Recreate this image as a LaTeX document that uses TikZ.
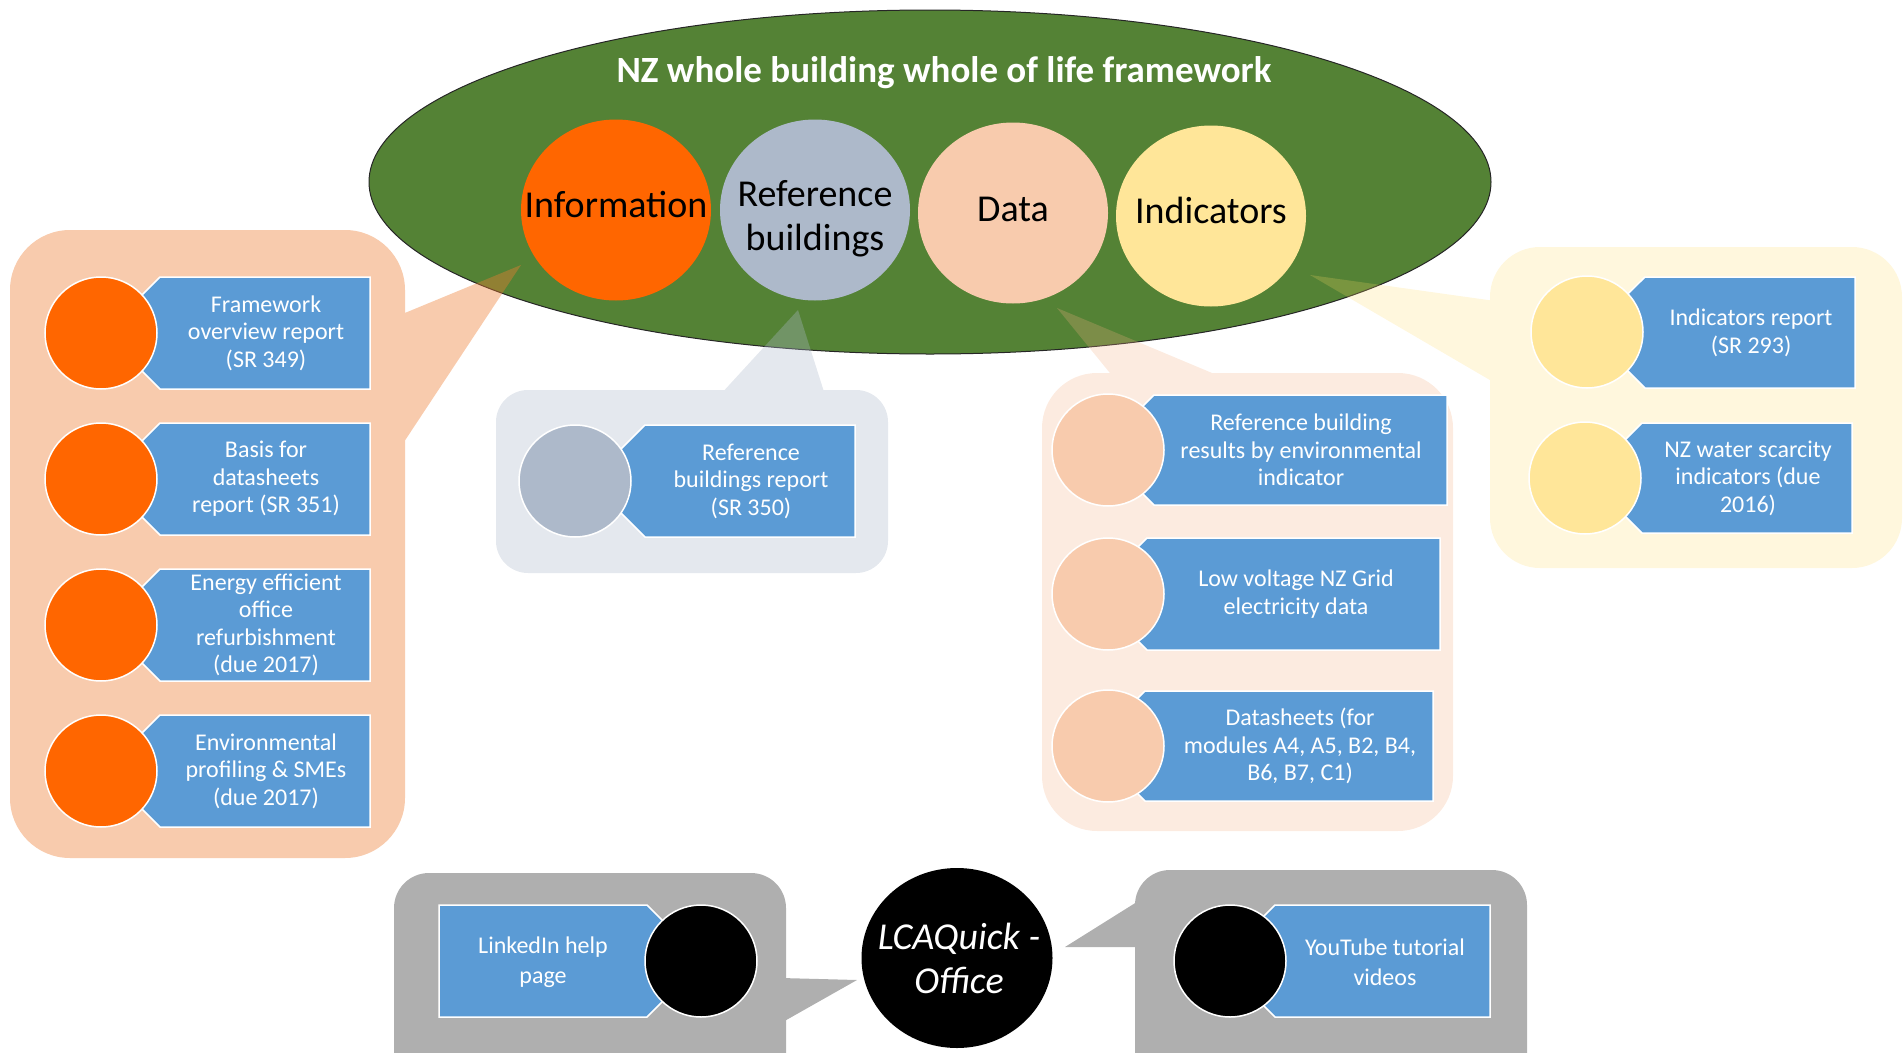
\documentclass[tikz,border=0pt]{standalone}
\usepackage{fontspec}
\setmainfont{Carlito}
\usetikzlibrary{shapes.geometric}

\definecolor{framegreen}{HTML}{548235}
\definecolor{infoorange}{HTML}{FF6600}
\definecolor{refgrey}{HTML}{ADB9CA}
\definecolor{datapeach}{HTML}{F8CBAD}
\definecolor{indyellow}{HTML}{FFE699}
\definecolor{tagblue}{HTML}{5B9BD5}
\definecolor{calloutorange}{HTML}{ED7D31}
\definecolor{calloutpeach}{HTML}{F4B183}
\definecolor{calloutyellow}{HTML}{FFD966}
\definecolor{helpgrey}{HTML}{AFAFAF}

\newcommand{\titlefont}{\fontsize{37}{44}\selectfont\bfseries}
\newcommand{\pillarfont}{\fontsize{38}{44}\selectfont}
\newcommand{\tagfont}{\fontsize{24}{27.5}\selectfont}
\newcommand{\hubfont}{\fontsize{38}{44}\selectfont\itshape}

\tikzset{
    pillar/.style={ellipse, minimum width=190pt, minimum height=181pt, inner sep=0pt},
    pillartext/.style={font=\pillarfont, align=center, inner sep=0pt},
    disc/.style={circle, draw=white, line width=1.5pt, minimum size=112pt, inner sep=0pt},
    tag/.style={fill=tagblue, draw=white, line width=1.5pt},
    tagtext/.style={text=white, font=\tagfont, align=center, inner sep=0pt}
}

\begin{document}
\begin{tikzpicture}[x=1pt,y=-1pt]
    \useasboundingbox (0,0) rectangle (1903,1052);
    \clip (0,0) rectangle (1903,1052);

    %% FRAMEWORK
    % Outer ellipse
    \node[ellipse, fill=framegreen, draw=black!85, line width=1pt, minimum width=1122pt, minimum height=344pt] (frame) at (930,182) {};
    \node[font=\titlefont, text=white] (title) at (944,73) {NZ whole building whole of life framework};
    % Pillars
    \node[pillar, fill=infoorange] (info) at (616,210) {};
    \node[pillartext] (infotxt) at (616,204) {Information};
    \node[pillar, fill=refgrey] (refb) at (815,210) {};
    \node[pillartext] (refbtxt) at (815,219) {Reference\\buildings};
    \node[pillar, fill=datapeach] (data) at (1013,213) {};
    \node[pillartext] (datatxt) at (1013,209) {Data};
    \node[pillar, fill=indyellow] (ind) at (1211,216) {};
    \node[pillartext] (indtxt) at (1211,210) {Indicators};

    %% INFORMATION (4)
    % Callout
    \coordinate (infotip) at (521,265);
    \fill[calloutorange, fill opacity=0.4] [rounded corners=60pt] (10,230) -- (405,230) -- (405,858) -- (10,858) -- cycle
        [sharp corners] (400,315) -- (infotip) -- (400,448) -- cycle;
    % Framework overview
    \draw[tag] (160,277) -- (370,277) -- (370,389) -- (160,389) -- (104,333) -- cycle;
    \node[disc, fill=infoorange] (info1) at (101,333) {};
    \node[tagtext] (info1txt) at (266,333) {Framework\\overview report\\(SR 349)};
    % Basis for datasheets
    \draw[tag] (160,423) -- (370,423) -- (370,535) -- (160,535) -- (104,479) -- cycle;
    \node[disc, fill=infoorange] (info2) at (101,479) {};
    \node[tagtext] (info2txt) at (266,479) {Basis for\\datasheets\\report (SR 351)};
    % Refurbishment
    \draw[tag] (160,569) -- (370,569) -- (370,681) -- (160,681) -- (104,625) -- cycle;
    \node[disc, fill=infoorange] (info3) at (101,625) {};
    \node[tagtext] (info3txt) at (266,625) {Energy efficient\\office\\refurbishment\\(due 2017)};
    % Profiling
    \draw[tag] (160,715) -- (370,715) -- (370,827) -- (160,827) -- (104,771) -- cycle;
    \node[disc, fill=infoorange] (info4) at (101,771) {};
    \node[tagtext] (info4txt) at (266,771) {Environmental\\profiling \& SMEs\\(due 2017)};

    %% REFERENCE BUILDINGS (1)
    \coordinate (reftip) at (798,310);
    \fill[refgrey, fill opacity=0.33] [rounded corners=32pt] (496,390) -- (888,390) -- (888,573) -- (496,573) -- cycle
        [sharp corners] (720,395) -- (reftip) -- (825,395) -- cycle;
    \draw[tag] (645,425) -- (855,425) -- (855,537) -- (645,537) -- (589,481) -- cycle;
    \node[disc, fill=refgrey] (ref1) at (575,481) {};
    \node[tagtext] (ref1txt) at (751,481) {Reference\\buildings report\\(SR 350)};

    %% DATA (3)
    \coordinate (datatip) at (1057,308);
    \fill[calloutpeach, fill opacity=0.25] [rounded corners=55pt] (1042,373) -- (1453,373) -- (1453,831) -- (1042,831) -- cycle
        [sharp corners] (1114,378) -- (datatip) -- (1224,378) -- cycle;
    % Results
    \draw[tag] (1154,395) -- (1447,395) -- (1447,505) -- (1154,505) -- (1099,450) -- cycle;
    \node[disc, fill=datapeach] (data1) at (1108,450) {};
    \node[tagtext] (data1txt) at (1301,450) {Reference building\\results by environmental\\indicator};
    % Grid
    \draw[tag] (1147,538) -- (1440,538) -- (1440,650) -- (1147,650) -- (1091,594) -- cycle;
    \node[disc, fill=datapeach] (data2) at (1108,594) {};
    \node[tagtext] (data2txt) at (1296,594) {Low voltage NZ Grid\\electricity data};
    % Datasheets
    \draw[tag] (1145,691) -- (1433,691) -- (1433,801) -- (1145,801) -- (1090,746) -- cycle;
    \node[disc, fill=datapeach] (data3) at (1108,746) {};
    \node[tagtext] (data3txt) at (1300,746) {Datasheets (for\\modules A4, A5, B2, B4,\\B6, B7, C1)};

    %% INDICATORS (2)
    \coordinate (indtip) at (1310,275);
    \fill[calloutyellow, fill opacity=0.22] [rounded corners=50pt] (1490,247) -- (1902,247) -- (1902,568) -- (1490,568) -- cycle
        [sharp corners] (1495,383) -- (indtip) -- (1495,301) -- cycle;
    % Indicators report
    \draw[tag] (1645,277) -- (1855,277) -- (1855,388) -- (1645,388) -- (1589,332) -- cycle;
    \node[disc, fill=indyellow] (ind1) at (1587,332) {};
    \node[tagtext] (ind1txt) at (1751,333) {Indicators report\\(SR 293)};
    % Water scarcity
    \draw[tag] (1642,423) -- (1852,423) -- (1852,533) -- (1642,533) -- (1587,478) -- cycle;
    \node[disc, fill=indyellow] (ind2) at (1585,478) {};
    \node[tagtext] (ind2txt) at (1748,478) {NZ water scarcity\\indicators (due\\2016)};

    %% LCAQUICK
    % Callouts
    \fill[helpgrey] [rounded corners=35pt] (394,873) -- (786,873) -- (786,1100) -- (394,1100) -- cycle
        [sharp corners] (781,978) -- (857,980) -- (781,1023) -- cycle;
    \fill[helpgrey] [rounded corners=35pt] (1135,870) -- (1527,870) -- (1527,1100) -- (1135,1100) -- cycle
        [sharp corners] (1140,947) -- (1065,947) -- (1140,900) -- cycle;
    % Hub
    \node[ellipse, fill=black, minimum width=191pt, minimum height=180pt, inner sep=0pt] (lca) at (957,958) {};
    \node[text=white, font=\hubfont, align=center, inner sep=0pt] (lcatxt) at (959,958) {LCAQuick -\\Office};
    % LinkedIn
    \draw[tag] (439,905) -- (647,905) -- (703,961) -- (647,1017) -- (439,1017) -- cycle;
    \node[disc, fill=black] (linkedin) at (701,961) {};
    \node[tagtext, font=\fontsize{24}{30}\selectfont] (linkedintxt) at (543,962) {LinkedIn help\\page};
    % YouTube
    \draw[tag] (1490,905) -- (1275,905) -- (1219,961) -- (1275,1017) -- (1490,1017) -- cycle;
    \node[disc, fill=black] (youtube) at (1230,961) {};
    \node[tagtext, font=\fontsize{24}{30}\selectfont] (youtubetxt) at (1385,962) {YouTube tutorial\\videos};
\end{tikzpicture}
\end{document}
